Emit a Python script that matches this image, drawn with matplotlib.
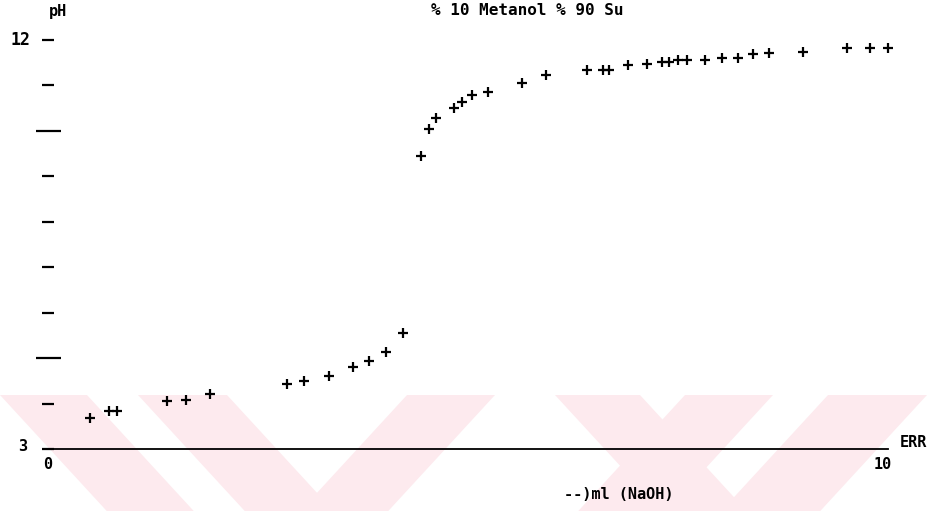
import matplotlib
matplotlib.use("Agg")
import matplotlib.pyplot as plt
from matplotlib.patches import Polygon

# titration data: ml NaOH vs pH
ml_naoh = [0.50, 0.73, 0.83, 1.43, 1.65, 1.94, 2.86, 3.07, 3.37, 3.65,
           3.84, 4.05, 4.25, 4.47, 4.56, 4.65, 4.86, 4.96, 5.08, 5.27,
           5.68, 5.96, 6.46, 6.65, 6.72, 6.95, 7.17, 7.35, 7.44, 7.54,
           7.65, 7.87, 8.07, 8.26, 8.44, 8.63, 9.04, 9.57, 9.84, 10.06]
ph = [3.68, 3.84, 3.84, 4.06, 4.08, 4.21, 4.43, 4.50, 4.61, 4.81,
      4.94, 5.14, 5.56, 9.45, 10.05, 10.29, 10.51, 10.64, 10.78, 10.86,
      11.06, 11.22, 11.33, 11.35, 11.35, 11.44, 11.48, 11.52, 11.52, 11.57,
      11.57, 11.55, 11.61, 11.61, 11.70, 11.72, 11.74, 11.83, 11.83, 11.83]

title = "% 10 Metanol % 90 Su"
xlabel = "--)ml (NaOH)"
y_ticks = [3, 4, 5, 6, 7, 8, 9, 10, 11, 12]

W, H = 952, 511
fig = plt.figure(figsize=(W / 100, H / 100), dpi=100)
fig.patch.set_facecolor("white")

# pale pink watermark chevrons along the bottom
def band(x_top, slant):
    y0, y1 = 395, 511
    dx = slant * (y1 - y0) * 0.92
    pts = [(x_top[0], y0), (x_top[1], y0), (x_top[1] + dx, y1), (x_top[0] + dx, y1)]
    return [(px / W, 1 - py / H) for px, py in pts]

for xt, s in [((0, 87), 1), ((138, 227), 1), ((407, 495), -1),
              ((555, 640), 1), ((685, 773), -1), ((828, 927), -1)]:
    fig.patches.append(Polygon(band(xt, s), closed=True, transform=fig.transFigure,
                               facecolor="#fdeaee", edgecolor="none", zorder=-5))

left, right = 48 / W, 888 / W
bottom, top = 1 - 449 / H, 1 - 40 / H
ax = fig.add_axes([left, bottom, right - left, top - bottom])
ax.patch.set_alpha(0)
ax.set_zorder(1)

ax.plot(ml_naoh, ph, linestyle="none", marker="+", color="black",
        markersize=7, markeredgewidth=1.6, clip_on=False)

ax.set_xlim(0, 10.06)
ax.set_ylim(3, 12)

for s in ["top", "right", "left"]:
    ax.spines[s].set_visible(False)
ax.spines["bottom"].set_linewidth(1.3)

ax.set_yticks([t for t in y_ticks if t % 5 != 0])
ax.set_yticks([t for t in y_ticks if t % 5 == 0], minor=True)
ax.tick_params(axis="y", which="major", direction="inout", length=8, width=1.6,
               labelleft=False)
ax.tick_params(axis="y", which="minor", direction="inout", length=18, width=1.6,
               labelleft=False)
ax.set_xticks([0, 10])
ax.set_xticklabels(["0", "10"])
ax.tick_params(axis="x", length=0, pad=6, labelsize=11)
for lab in ax.get_xticklabels():
    lab.set_fontfamily("DejaVu Sans Mono")
    lab.set_fontweight("bold")

txt = dict(family="DejaVu Sans Mono", fontweight="bold", color="black",
           clip_on=False)
ax.text(-0.33, 12, "12", ha="center", va="center", fontsize=12, **txt)
ax.text(-0.30, 3.05, "3", ha="center", va="center", fontsize=11, **txt)
ax.text(0.12, 12.62, "pH", ha="center", va="center", fontsize=11, **txt)
ax.text(5.74, 12.64, title, ha="center", va="center", fontsize=11.5, **txt)
ax.text(6.83, 2.0, xlabel, ha="center", va="center", fontsize=11, **txt)
ax.text(10.2, 3.15, "ERR", ha="left", va="center", fontsize=11, **txt)

fig.savefig("out.png", dpi=100)
